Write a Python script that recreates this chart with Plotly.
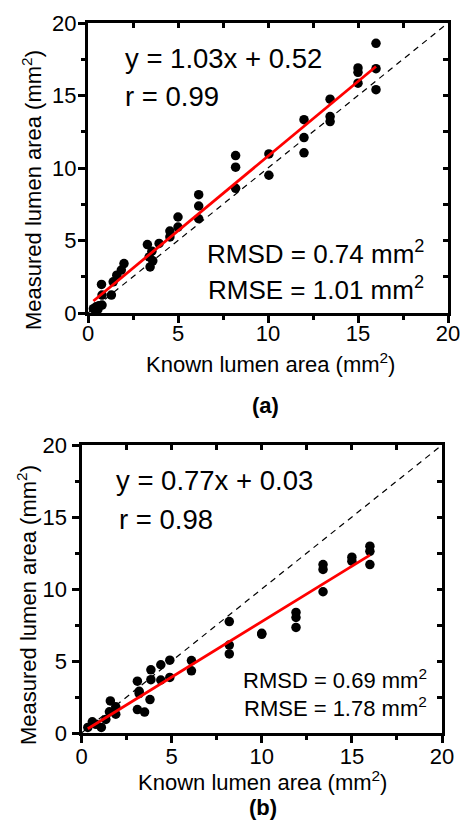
import plotly.graph_objects as go

# ---------------- data ----------------
known_a = [16.0, 16.0, 16.0, 15.0, 15.0, 15.0, 13.45, 13.45, 13.45, 12.0, 12.0, 12.0,
           10.05, 10.05, 8.2, 8.2, 8.2, 6.15, 6.15, 6.15, 5.0, 5.0, 4.55, 4.55,
           3.95, 3.3, 3.55, 3.4, 3.45, 3.6, 2.0, 1.85, 1.6, 1.4, 1.3,
           0.75, 0.78, 0.78, 0.45, 0.3, 0.55, 0.6]
measured_a = [18.6, 16.85, 15.4, 16.9, 16.6, 15.85, 14.75, 13.55, 13.2, 13.33, 12.1, 11.05,
              10.97, 9.5, 10.86, 10.06, 8.6, 8.16, 7.38, 6.5, 6.62, 5.93, 5.65, 5.25,
              4.8, 4.72, 4.26, 3.87, 3.18, 3.6, 3.41, 2.96, 2.61, 2.15, 1.24,
              1.97, 1.24, 0.55, 0.43, 0.3, 0.25, 0.5]

known_b = [16.0, 16.0, 16.0, 15.0, 15.0, 13.4, 13.4, 13.4, 11.9, 11.9, 11.9, 10.0, 10.0,
           8.2, 8.2, 8.2, 6.1, 6.1, 4.9, 4.9, 4.4, 4.4, 3.85, 3.85, 3.8,
           3.1, 3.2, 3.2, 3.1, 3.5, 1.6, 1.9, 1.9, 1.55, 1.35, 1.1, 0.6, 0.35, 0.8]
measured_b = [12.97, 12.62, 11.7, 12.21, 11.93, 11.7, 11.36, 9.81, 8.37, 8.02, 7.33, 6.92, 6.85,
              7.74, 6.11, 5.49, 5.03, 4.32, 5.06, 3.86, 4.74, 3.68, 4.39, 3.7, 2.32,
              3.6, 2.74, 2.9, 1.63, 1.45, 2.23, 1.82, 1.31, 1.47, 0.94, 0.39, 0.78, 0.39, 0.6]

slope_a, intercept_a = 1.03, 0.52
slope_b, intercept_b = 0.77, 0.03
identity = [0, 20]
tick_vals = [0, 5, 10, 15, 20]
tick_text = ["0", "5", "10", "15", "20"]

FONT = "Liberation Sans, Arial, sans-serif"
W, H = 465, 832

fig = go.Figure()


def add_panel(xs, ys, slope, intercept, xa, ya, xa_top, ya_right):
    fig.add_trace(go.Scatter(x=identity, y=identity, mode="lines",
                             line=dict(color="black", width=1.2, dash="6px,5px"),
                             xaxis=xa, yaxis=ya, showlegend=False, hoverinfo="skip"))
    fig.add_trace(go.Scatter(x=xs, y=ys, mode="markers",
                             marker=dict(color="black", size=9.5, line=dict(width=0)),
                             xaxis=xa, yaxis=ya, showlegend=False))
    fx = [min(xs), max(xs)]
    fy = [slope * v + intercept for v in fx]
    fig.add_trace(go.Scatter(x=fx, y=fy, mode="lines",
                             line=dict(color="#ff0000", width=2.8),
                             xaxis=xa, yaxis=ya, showlegend=False))
    # invisible traces for inward-tick overlay axes
    fig.add_trace(go.Scatter(x=[None], y=[None], xaxis=xa_top, yaxis=ya, showlegend=False))
    fig.add_trace(go.Scatter(x=[None], y=[None], xaxis=xa, yaxis=ya_right, showlegend=False))


add_panel(known_a, measured_a, slope_a, intercept_a, "x", "y", "x3", "y3")
add_panel(known_b, measured_b, slope_b, intercept_b, "x2", "y2", "x4", "y4")

dom_a_x = [88 / W, 448 / W]
dom_a_y = [1 - 313 / H, 1 - 23 / H]
dom_b_x = [81.5 / W, 442 / W]
dom_b_y = [1 - 733 / H, 1 - 445 / H]

base = dict(range=[0, 20], tickmode="array", tickvals=tick_vals, ticktext=tick_text,
            ticks="outside", ticklen=7, tickwidth=2.5, tickcolor="black",
            showline=True, linecolor="black", linewidth=3, mirror=True,
            showgrid=False, zeroline=False, fixedrange=True, automargin=False,
            tickfont=dict(family=FONT, size=22, color="black"),
            minor=dict(ticks="outside", ticklen=4, tickwidth=2.5, tickcolor="black",
                       tickmode="array", tickvals=[2.5, 7.5, 12.5, 17.5], showgrid=False))
over = dict(range=[0, 20], tickmode="array", tickvals=[2.5, 5, 7.5, 10, 12.5, 15, 17.5],
            ticks="inside", ticklen=5, tickwidth=2.5, tickcolor="black",
            showticklabels=False, showline=False, showgrid=False, zeroline=False,
            fixedrange=True, automargin=False)

fig.update_layout(
    template="none",
    width=W, height=H, margin=dict(l=0, r=0, t=0, b=0, pad=0),
    paper_bgcolor="white", plot_bgcolor="white", showlegend=False,
    xaxis=dict(base, domain=dom_a_x, anchor="y", ticklabelstandoff=-8),
    yaxis=dict(base, domain=dom_a_y, anchor="x", ticklabelstandoff=-3),
    xaxis2=dict(base, domain=dom_b_x, anchor="y2", ticklabelstandoff=-5),
    yaxis2=dict(base, domain=dom_b_y, anchor="x2", ticklabelstandoff=0),
    xaxis3=dict(over, overlaying="x", side="top", anchor="y"),
    yaxis3=dict(over, overlaying="y", side="right", anchor="x"),
    xaxis4=dict(over, overlaying="x2", side="top", anchor="y2"),
    yaxis4=dict(over, overlaying="y2", side="right", anchor="x2"),
)

ann = []


def txt(text, x, y, xref, yref, size, xanchor="center", yanchor="middle", angle=0, bold=False):
    t = f"<b>{text}</b>" if bold else text
    ann.append(dict(text=t, x=x, y=y, xref=xref, yref=yref, showarrow=False,
                    xanchor=xanchor, yanchor=yanchor, textangle=angle,
                    font=dict(family=FONT, size=size, color="black")))


# panel (a) texts
txt("y = 1.03x + 0.52", 1.96, 17.55, "x", "y", 27.5, xanchor="left")
txt("r = 0.99", 1.96, 14.9, "x", "y", 27.5, xanchor="left")
txt("RMSD = 0.74 mm<sup>2</sup>", 18.75, 4.2, "x", "y", 26, xanchor="right")
txt("RMSE = 1.01 mm<sup>2</sup>", 18.75, 1.7, "x", "y", 26, xanchor="right")
# panel (b) texts
txt("y = 0.77x + 0.03", 1.83, 17.55, "x2", "y2", 27.5, xanchor="left")
txt("r = 0.98", 1.96, 14.85, "x2", "y2", 27.5, xanchor="left")
txt("RMSD = 0.69 mm<sup>2</sup>", 19.3, 3.75, "x2", "y2", 22, xanchor="right")
txt("RMSE = 1.78 mm<sup>2</sup>", 19.3, 1.8, "x2", "y2", 22, xanchor="right")

# axis titles and panel labels
txt("Known lumen area (mm<sup>2</sup>)", 270 / W, 1 - 363 / H, "paper", "paper", 22)
txt("(a)", 265 / W, 1 - 405 / H, "paper", "paper", 22, bold=True)
txt("Measured lumen area (mm<sup>2</sup>)", 32 / W, 1 - 190 / H, "paper", "paper", 22, angle=-90)
txt("Known lumen area (mm<sup>2</sup>)", 262 / W, 1 - 781 / H, "paper", "paper", 22)
txt("(b)", 263 / W, 1 - 807 / H, "paper", "paper", 22, bold=True)
txt("Measured lumen area (mm<sup>2</sup>)", 27 / W, 1 - 605 / H, "paper", "paper", 22, angle=-90)

fig.update_layout(annotations=ann)
fig.write_html("out.html")
